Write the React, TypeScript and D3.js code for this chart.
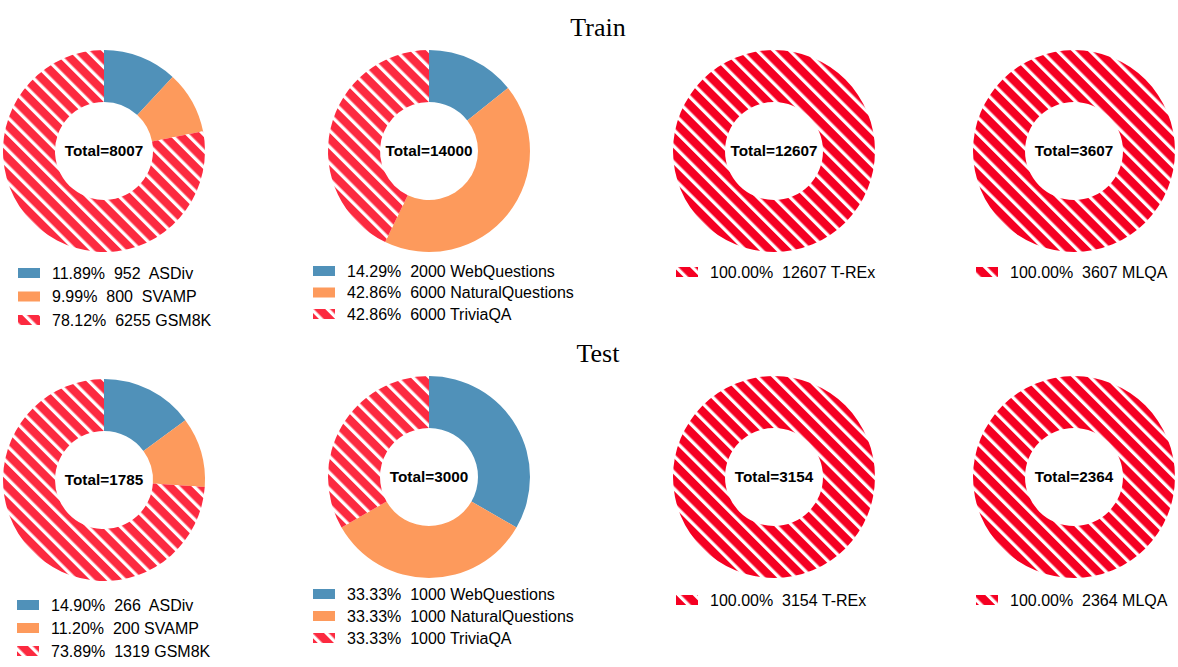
import React from "react";
import * as d3 from "d3";

// ---- data ----
const mathNames = ["ASDiv", "SVAMP", "GSM8K"];
const qaNames = ["WebQuestions", "NaturalQuestions", "TriviaQA"];
const trexNames = ["T-REx"];
const mlqaNames = ["MLQA"];

const trainMath = [952, 800, 6255];
const trainQA = [2000, 6000, 6000];
const trainTrex = [12607];
const trainMlqa = [3607];

const testMath = [266, 200, 1319];
const testQA = [1000, 1000, 1000];
const testTrex = [3154];
const testMlqa = [2364];

// gap strings between count and name (as in the reference)
const trainMathGaps = ["  ", "  ", " "];
const testMathGaps = ["  ", " ", " "];
const qaGaps = [" ", " ", " "];
const oneGap = [" "];

const rowTitles = ["Train", "Test"];

const BLUE = "#5091b9";
const ORANGE = "#fd9a5c";
const RED_A = "#fc2a40";
const RED_B = "#f50022";

type Donut = {
  values: number[];
  names: string[];
  gaps: string[];
  colors: string[];
  hatch: string;
  cx: number;
  cy: number;
  legX: number;
  legY: number;
  legDy: number;
  font: number;
};

const R = 101;
const r = 49;

function DonutChart({ d }: { d: Donut }) {
  const total = d3.sum(d.values);
  const pie = d3
    .pie<number>()
    .sort(null)
    .value((v) => v);
  const arc = d3.arc<d3.PieArcDatum<number>>().innerRadius(r).outerRadius(R);
  const arcs = pie(d.values);
  const fillFor = (i: number) =>
    d.colors[i] === "hatch" ? `url(#${d.hatch})` : d.colors[i];
  return (
    <g>
      <g transform={`translate(${d.cx},${d.cy})`}>
        {arcs.map((a, i) => (
          <path key={i} d={arc(a) || ""} fill={fillFor(i)} />
        ))}
        <text
          x={0}
          y={0}
          dy="0.35em"
          textAnchor="middle"
          fontFamily="Liberation Sans, Arial, sans-serif"
          fontWeight="bold"
          fontSize={15.3}
          fill="#000"
        >
          {`Total=${total}`}
        </text>
      </g>
      <g>
        {d.values.map((v, i) => {
          const y = d.legY + i * d.legDy;
          const pct = ((v / total) * 100).toFixed(2) + "%";
          return (
            <g key={i}>
              <rect x={d.legX} y={y - 5} width={22} height={10} fill={fillFor(i)} />
              <text
                x={d.legX + 34}
                y={y}
                dy="0.36em"
                fontFamily="Liberation Sans, Arial, sans-serif"
                fontSize={d.font}
                fill="#000"
                style={{ whiteSpace: "pre" }}
              >
                {`${pct}  ${v}${d.gaps[i]}${d.names[i]}`}
              </text>
            </g>
          );
        })}
      </g>
    </g>
  );
}

export default function App() {
  const colX = [104, 429, 774, 1074];
  const legXs = [18, 313, 676, 976];
  const trainCy = 151;
  const testCy = 477;

  const donuts: Donut[] = [
    { values: trainMath, names: mathNames, gaps: trainMathGaps, colors: [BLUE, ORANGE, "hatch"], hatch: "hatchA", cx: colX[0], cy: trainCy, legX: legXs[0], legY: 273, legDy: 23.5, font: 16 },
    { values: trainQA, names: qaNames, gaps: qaGaps, colors: [BLUE, ORANGE, "hatch"], hatch: "hatchA", cx: colX[1], cy: trainCy, legX: legXs[1], legY: 271, legDy: 21.5, font: 16 },
    { values: trainTrex, names: trexNames, gaps: oneGap, colors: ["hatch"], hatch: "hatchB", cx: colX[2], cy: trainCy, legX: legXs[2], legY: 272, legDy: 22, font: 16 },
    { values: trainMlqa, names: mlqaNames, gaps: oneGap, colors: ["hatch"], hatch: "hatchB", cx: colX[3], cy: trainCy, legX: legXs[3], legY: 272, legDy: 22, font: 16 },
    { values: testMath, names: mathNames, gaps: testMathGaps, colors: [BLUE, ORANGE, "hatch"], hatch: "hatchA", cx: colX[0], cy: testCy + 3, legX: legXs[0] - 1, legY: 605, legDy: 23, font: 16 },
    { values: testQA, names: qaNames, gaps: qaGaps, colors: [BLUE, ORANGE, "hatch"], hatch: "hatchA", cx: colX[1], cy: testCy, legX: legXs[1], legY: 594, legDy: 22, font: 16 },
    { values: testTrex, names: trexNames, gaps: oneGap, colors: ["hatch"], hatch: "hatchB", cx: colX[2], cy: testCy, legX: legXs[2], legY: 600, legDy: 22, font: 16 },
    { values: testMlqa, names: mlqaNames, gaps: oneGap, colors: ["hatch"], hatch: "hatchB", cx: colX[3], cy: testCy, legX: legXs[3], legY: 600, legDy: 22, font: 16 },
  ];

  const P = 11.5;
  const hatch = (id: string, color: string) => (
    <pattern
      id={id}
      patternUnits="userSpaceOnUse"
      width={P}
      height={P}
      patternTransform="rotate(-45)"
    >
      <rect x={0} y={0} width={P} height={P} fill={color} />
      <rect x={0} y={0} width={3.3} height={P} fill="#fff" />
    </pattern>
  );

  return (
    <svg
      width={1178}
      height={667}
      style={{ position: "absolute", left: 0, top: 0, background: "#fff" }}
    >
      <defs>
        {hatch("hatchA", RED_A)}
        {hatch("hatchB", RED_B)}
      </defs>
      <rect x={0} y={0} width={1178} height={667} fill="#fff" />
      {rowTitles.map((t, i) => (
        <text
          key={t}
          x={598}
          y={i === 0 ? 36 : 362}
          textAnchor="middle"
          fontFamily="Liberation Serif, Times New Roman, serif"
          fontSize={26}
          fill="#000"
        >
          {t}
        </text>
      ))}
      {donuts.map((d, i) => (
        <DonutChart key={i} d={d} />
      ))}
    </svg>
  );
}
